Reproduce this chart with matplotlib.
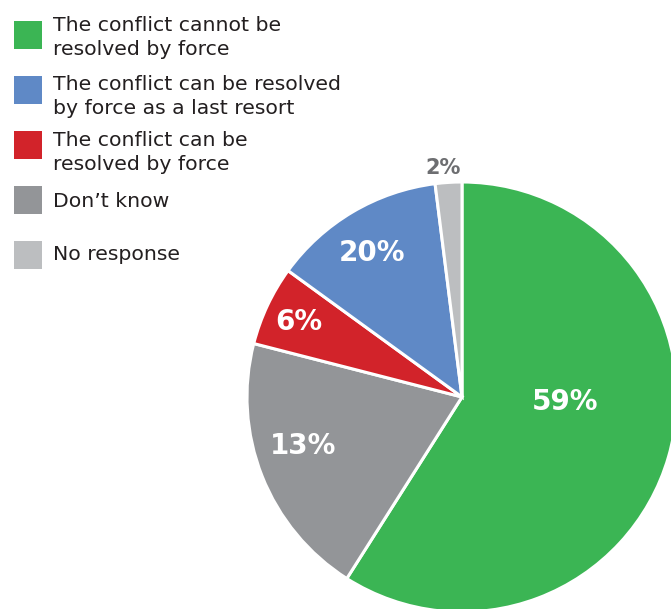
import matplotlib.pyplot as plt
from matplotlib.patches import Rectangle

# Data (wedge sizes as drawn; printed labels as they appear in the chart)
categories = ["The conflict cannot be\nresolved by force",
              "Don\u2019t know",
              "The conflict can be\nresolved by force",
              "The conflict can be resolved\nby force as a last resort",
              "No response"]
sizes = [59, 20, 6, 13, 2]
pct_labels = ["59%", "13%", "6%", "20%", "2%"]
colors = ["#3bb554", "#939598", "#d2232a", "#5f89c6", "#bcbec0"]

# legend order as in the figure
legend_order = [0, 3, 2, 1, 4]

W, H = 671, 609
fig = plt.figure(figsize=(W / 100, H / 100), dpi=100)
ax = fig.add_axes([0, 0, 1, 1])

center = (462, H - 397)
radius = 215
ax.pie(sizes, colors=colors, startangle=90, counterclock=False,
       center=center, radius=radius,
       wedgeprops=dict(edgecolor="white", linewidth=2.2))
ax.set_xlim(0, W)
ax.set_ylim(0, H)
ax.set_aspect("equal")
ax.axis("off")

# percentage labels (pixel positions)
label_pos = [(565, 402), (303, 446), (299, 322), (372, 253), (443, 168)]
for txt, (x, y) in zip(pct_labels, label_pos):
    if txt == "2%":
        ax.text(x, H - y, txt, ha="center", va="center", fontsize=15,
                fontweight="semibold", color="#6d6e71")
    else:
        ax.text(x, H - y, txt, ha="center", va="center", fontsize=20,
                fontweight="semibold", color="white")

# manual legend
box_top = [21, 76, 131, 186, 241]
first_baseline = [31, 90, 146, 207, 260]
for i, top, base in zip(legend_order, box_top, first_baseline):
    ax.add_patch(Rectangle((14, H - top - 28), 28, 28, color=colors[i], lw=0))
    for k, line in enumerate(categories[i].split("\n")):
        ax.text(53, H - (base + 24 * k), line, ha="left", va="baseline",
                fontsize=14.7, color="#231f20")

fig.savefig("out.png", dpi=100)
